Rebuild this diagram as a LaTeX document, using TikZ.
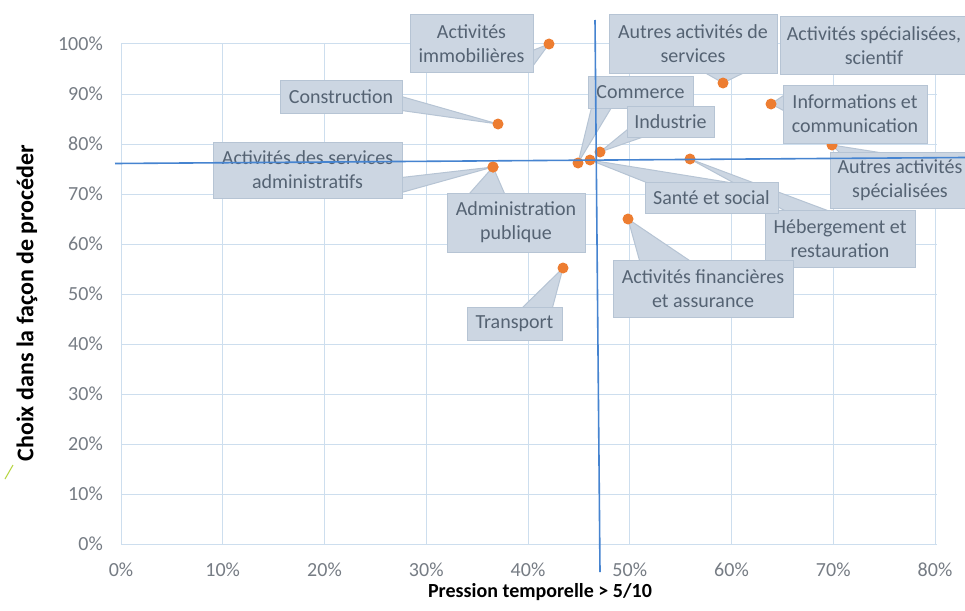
\documentclass[tikz,border=0pt]{standalone}
\usepackage{fontspec}
\setmainfont{Carlito}
\usetikzlibrary{calc}
\definecolor{gridc}{RGB}{205,222,238}
\definecolor{bluel}{RGB}{70,132,208}
\definecolor{dotor}{RGB}{237,125,49}
\definecolor{boxfill}{RGB}{204,214,226}
\definecolor{boxline}{RGB}{182,196,212}
\definecolor{boxtext}{RGB}{85,99,115}
\definecolor{tickc}{RGB}{118,124,132}
\definecolor{greenl}{RGB}{180,212,60}
\pgfdeclarelayer{gridlayer}
\pgfdeclarelayer{wedgelayer}
\pgfdeclarelayer{toplayer}
\pgfsetlayers{gridlayer,wedgelayer,main,toplayer}
\newcommand\lblfont{\fontsize{20}{24}\selectfont}
\newcommand\ytfont{\fontsize{24}{28}\selectfont}
\tikzset{
  cbox/.style={fill=boxfill, draw=boxline, line width=1pt, inner sep=0pt, align=center, text=boxtext, font=\lblfont},
  wedge/.style={fill=boxfill, draw=boxline, line width=1pt, line join=round},
  dot/.style={circle, fill=dotor, inner sep=0pt, minimum size=11pt},
  gridline/.style={draw=gridc, line width=1pt},
  thresh/.style={draw=bluel, line width=1.6pt},
  ticklbl/.style={text=tickc, font=\lblfont, inner sep=0pt},
  axtitle/.style={text=black, font=\lblfont\bfseries, inner sep=0pt}
}
\begin{document}
\begin{tikzpicture}[x=1pt,y=-1pt]
\useasboundingbox (0,0) rectangle (965,610);
\clip (0,0) rectangle (965,610);
% grid
\begin{pgfonlayer}{gridlayer}
\fill[white] (0,0) rectangle (965,610);
\foreach \k in {0,...,10} { \draw[gridline] (121,544-50*\k) -- (937,544-50*\k); }
\foreach \k in {0,...,8} { \draw[gridline] (121+101.75*\k,44) -- (121+101.75*\k,544); }
\end{pgfonlayer}
% tick labels
\foreach \k in {0,...,10} {
  \pgfmathtruncatemacro\v{\k*10}
  \node[ticklbl, anchor=east] (yt\k) at (103,544-50*\k) {\v\%};
}
\foreach \k in {0,...,8} {
  \pgfmathtruncatemacro\v{\k*10}
  \node[ticklbl] (xt\k) at (121+101.75*\k,570) {\v\%};
}
% axis titles
\node[axtitle] (xtitle) at (540,592) {Pression temporelle > 5/10};
\node[axtitle, font=\ytfont\bfseries, rotate=90] (ytitle) at (27,303) {Choix dans la façon de procéder};
% small green mark
\draw[greenl, line width=1pt] (5,479) -- (13,465);
% dots
\node[dot] (dImmo) at (549,44) {};
\node[dot] (dConstr) at (498,124) {};
\node[dot] (dServ) at (493,167) {};
\node[dot] (dAdmin) at (493,167) {};
\node[dot] (dTrans) at (563,268) {};
\node[dot] (dComm) at (578,163) {};
\node[dot] (dSante) at (590,160) {};
\node[dot] (dIndus) at (600,152) {};
\node[dot] (dFin) at (628,219) {};
\node[dot] (dHeb) at (690,159) {};
\node[dot] (dAutServ) at (723,83) {};
\node[dot] (dInfo) at (771,104) {};
\node[dot] (dAutSpec) at (832,145) {};
% boxes
\node[cbox, minimum width=123pt, minimum height=57pt] (bImmo) at (471.5,43.5) {Activités\\immobilières};
\node[cbox, minimum width=122pt, minimum height=33pt] (bConstr) at (341,96.5) {Construction};
\node[cbox, minimum width=189pt, minimum height=56pt] (bServ) at (307.5,170) {Activités des services\\administratifs};
\node[cbox, minimum width=138pt, minimum height=59pt] (bAdmin) at (516,222.5) {Administration\\publique};
\node[cbox, minimum width=95pt, minimum height=33pt] (bTrans) at (514.5,323.5) {Transport};
\node[cbox, minimum width=105pt, minimum height=32pt] (bComm) at (640.5,92) {Commerce};
\node[cbox, minimum width=87pt, minimum height=31pt] (bIndus) at (670.5,121.5) {Industrie};
\node[cbox, minimum width=168pt, minimum height=58pt] (bAutServ) at (693,44) {Autres activités de\\services};
\node[cbox, minimum width=188pt, minimum height=57pt] (bSpecSci) at (874,45.5) {Activités spécialisées,\\scientif};
\node[cbox, minimum width=144pt, minimum height=58pt] (bInfo) at (855,114) {Informations et\\communication};
\node[cbox, minimum width=140pt, minimum height=56pt] (bAutSpec) at (900,180) {Autres activités\\spécialisées};
\node[cbox, minimum width=150pt, minimum height=57pt] (bHeb) at (840,238.5) {Hébergement et\\restauration};
\node[cbox, minimum width=133pt, minimum height=31pt] (bSante) at (711.5,197.5) {Santé et social};
\node[cbox, minimum width=180pt, minimum height=57pt] (bFin) at (703,288.5) {Activités financières\\et assurance};
% wedges
\begin{pgfonlayer}{wedgelayer}
\draw[wedge] ($(bImmo.north east)+(-1,36)$) -- (dImmo.center) -- ($(bImmo.north east)+(-1,52)$) -- cycle;
\draw[wedge] ($(bConstr.north east)+(-1,17)$) -- (dConstr.center) -- ($(bConstr.north east)+(-1,31)$) -- cycle;
\draw[wedge] ($(bServ.north east)+(-1,36)$) -- (dServ.center) -- ($(bServ.north east)+(-1,51)$) -- cycle;
\draw[wedge] ($(bAdmin.north west)+(23,1)$) -- (dAdmin.center) -- ($(bAdmin.north west)+(58,1)$) -- cycle;
\draw[wedge] ($(bTrans.north west)+(56,1)$) -- (dTrans.center) -- ($(bTrans.north west)+(86,1)$) -- cycle;
\draw[wedge] ($(bComm.south west)+(4,-1)$) -- (dComm.center) -- ($(bComm.south west)+(24,-1)$) -- cycle;
\draw[wedge] ($(bIndus.south west)+(1,-8)$) -- (dIndus.center) -- ($(bIndus.south west)+(18,-1)$) -- cycle;
\draw[wedge] ($(bAutServ.south west)+(96,-1)$) -- (dAutServ.center) -- ($(bAutServ.south west)+(136,-1)$) -- cycle;
\draw[wedge] ($(bInfo.north west)+(1,11)$) -- (dInfo.center) -- ($(bInfo.north west)+(1,26)$) -- cycle;
\draw[wedge] ($(bAutSpec.north west)+(10,1)$) -- (dAutSpec.center) -- ($(bAutSpec.north west)+(50,1)$) -- cycle;
\draw[wedge] ($(bSante.north west)+(2,1)$) -- (dSante.center) -- ($(bSante.north west)+(85,1)$) -- cycle;
\draw[wedge] ($(bHeb.north west)+(20,1)$) -- (dHeb.center) -- ($(bHeb.north west)+(63,1)$) -- cycle;
\draw[wedge] ($(bFin.north west)+(27,1)$) -- (dFin.center) -- ($(bFin.north west)+(77,1)$) -- cycle;
\end{pgfonlayer}
% threshold lines
\begin{pgfonlayer}{toplayer}
\coordinate (hL) at (115,163.5);
\coordinate (hR) at (965,157.5);
\coordinate (vT) at (595,20);
\coordinate (vB) at (600,572);
\draw[thresh] (hL) -- (hR);
\draw[thresh] (vT) -- (vB);
\end{pgfonlayer}
\end{tikzpicture}
\end{document}
